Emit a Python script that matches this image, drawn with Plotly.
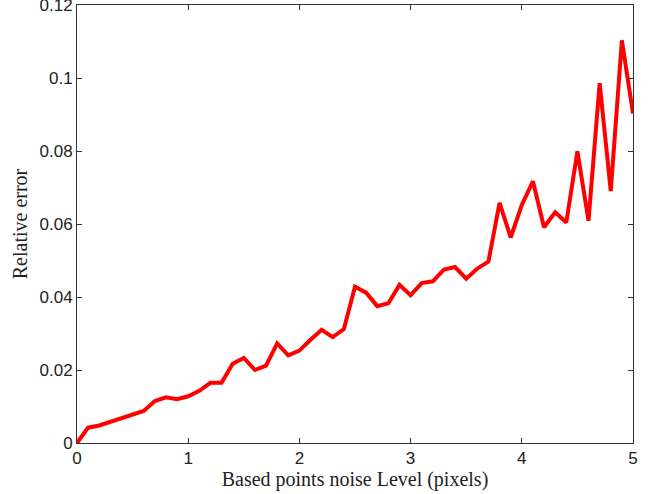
import plotly.graph_objects as go

noise_level = [round(i * 0.1, 1) for i in range(51)]
relative_error = [
    0.0, 0.0042, 0.0048, 0.0058, 0.0068, 0.0076, 0.0088, 0.0115, 0.0125, 0.0120,
    0.0128, 0.0143, 0.0165, 0.0165, 0.0217, 0.0233, 0.0200, 0.0212, 0.0273, 0.0240,
    0.0253, 0.0283, 0.0310, 0.0290, 0.0312, 0.0428, 0.0412, 0.0375, 0.0383, 0.0433,
    0.0405, 0.0438, 0.0443, 0.0475, 0.0482, 0.0450, 0.0478, 0.0497, 0.0658, 0.0563,
    0.0652, 0.0717, 0.0591, 0.0632, 0.0604, 0.0799, 0.0609, 0.0986, 0.0690, 0.1103,
    0.0903,
]
x_ticks = [0, 1, 2, 3, 4, 5]
x_tick_labels = ["0", "1", "2", "3", "4", "5"]
y_ticks = [0, 0.02, 0.04, 0.06, 0.08, 0.1, 0.12]
y_tick_labels = ["0", "0.02", "0.04", "0.06", "0.08", "0.1", "0.12"]

fig = go.Figure()
fig.add_trace(go.Scatter(
    x=noise_level, y=relative_error, mode="lines",
    line=dict(color="#ff0000", width=4), showlegend=False, cliponaxis=False,
))

axis_common = dict(
    showgrid=False, zeroline=False, showline=True, linecolor="#333333", linewidth=1,
    mirror="ticks", ticks="inside", ticklen=5, tickcolor="#333333", automargin=False,
    ticklabeloverflow="allow",
    tickfont=dict(family="Liberation Sans, Arial, sans-serif", size=17, color="#222222"),
)
fig.update_xaxes(
    range=[0, 5], tickvals=x_ticks, ticktext=x_tick_labels,
    title=dict(text="Based points noise Level (pixels)", standoff=2,
               font=dict(family="Liberation Serif, Times New Roman, serif", size=20, color="#222222")),
    **axis_common,
)
fig.update_yaxes(
    range=[0, 0.1200001], tickvals=y_ticks, ticktext=y_tick_labels,
    title=dict(text="Relative error", standoff=6,
               font=dict(family="Liberation Serif, Times New Roman, serif", size=20, color="#222222")),
    **axis_common,
)
fig.update_layout(
    width=652, height=494,
    margin=dict(l=77, r=19, t=5, b=51),
    paper_bgcolor="white", plot_bgcolor="white",
)
fig.write_html(
    "out.html",
    config={"displayModeBar": False},
    post_script="document.body.style.margin='0';document.body.style.overflow='hidden';",
)
